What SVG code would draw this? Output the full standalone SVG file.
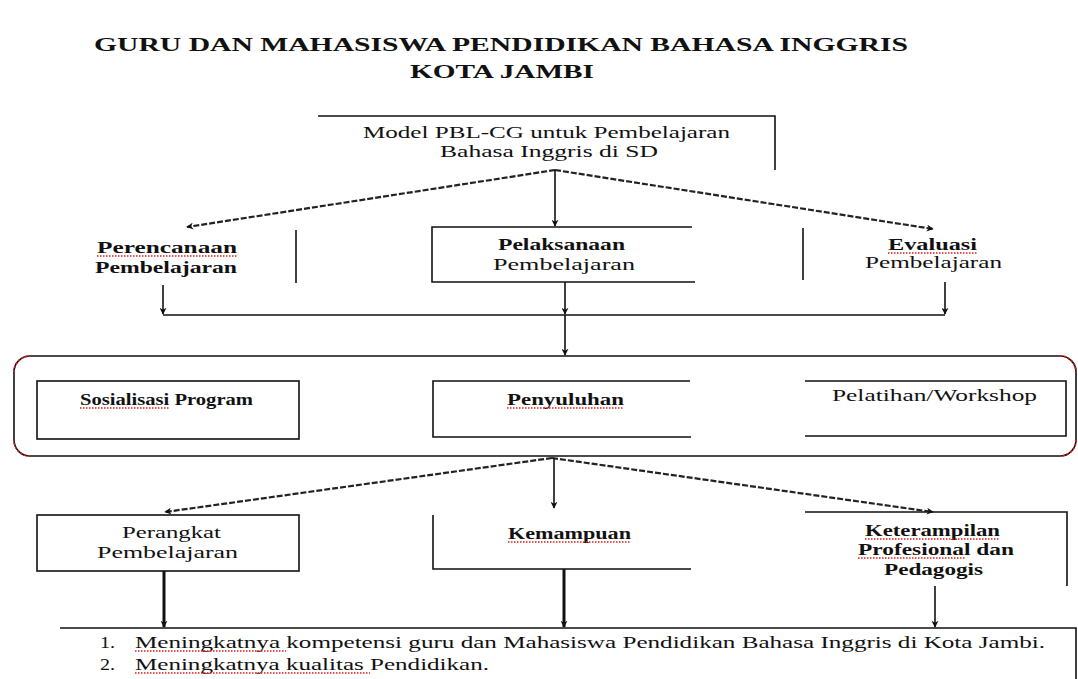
<svg xmlns="http://www.w3.org/2000/svg" width="1078" height="679" viewBox="0 0 1078 679">
<style>
text{font-family:"Liberation Serif","Times New Roman",serif;fill:#111;font-size:16px}
.t{font-weight:bold;font-size:19px}
.b{font-weight:bold}
.ln{stroke:#111;stroke-width:1.6;fill:none}
.th{stroke:#111;stroke-width:3;fill:none}
.ds{stroke:#222;stroke-width:2.2;fill:none;stroke-dasharray:6 2}
.sq{stroke:#e0201a;stroke-width:1.3;fill:none;stroke-dasharray:1.5 1.5}
.rc{stroke:#d0201a;stroke-width:1.8;fill:none;stroke-dasharray:2 2}
</style>
<defs>
<marker id="ah" viewBox="0 0 10 10" refX="9" refY="5" markerWidth="7" markerHeight="7" orient="auto" markerUnits="userSpaceOnUse">
<path d="M0,0 L10,5 L0,10 L3,5 Z" fill="#111"/>
</marker>
</defs>
<rect width="1078" height="679" fill="#fff"/>
<g id="title">
<text class="t" x="94" y="51" textLength="814" lengthAdjust="spacingAndGlyphs">GURU DAN MAHASISWA PENDIDIKAN BAHASA INGGRIS</text>
<text class="t" x="410" y="78" textLength="184" lengthAdjust="spacingAndGlyphs">KOTA JAMBI</text>
</g>
<g id="n-model">
<path class="ln" d="M318,116 H775 V170"/>
<text x="363" y="138" textLength="367" lengthAdjust="spacingAndGlyphs">Model PBL-CG untuk Pembelajaran</text>
<text x="440" y="157" textLength="218" lengthAdjust="spacingAndGlyphs">Bahasa Inggris di SD</text>
</g>
<g id="n-perencanaan">
<text class="b" x="97" y="253" textLength="140" lengthAdjust="spacingAndGlyphs">Perencanaan</text>
<path class="sq" d="M97,256 H237"/>
<text class="b" x="95" y="273" textLength="142" lengthAdjust="spacingAndGlyphs">Pembelajaran</text>
<path class="ln" d="M296,230 V283"/>
</g>
<g id="n-pelaksanaan">
<path class="ln" d="M692,227 H432 V282 H695"/>
<text class="b" x="498" y="250" textLength="127" lengthAdjust="spacingAndGlyphs">Pelaksanaan</text>
<text x="493" y="270" textLength="142" lengthAdjust="spacingAndGlyphs">Pembelajaran</text>
</g>
<g id="n-evaluasi">
<path class="ln" d="M803,228 V280"/>
<text class="b" x="888" y="250" textLength="89" lengthAdjust="spacingAndGlyphs">Evaluasi</text>
<path class="sq" d="M888,253 H977"/>
<text x="865" y="268" textLength="137" lengthAdjust="spacingAndGlyphs">Pembelajaran</text>
</g>
<g id="n-container">
<rect x="14" y="356" width="1062" height="100" rx="16" ry="16" class="ln"/>
<path class="rc" d="M14,372 A16,16 0 0 1 30,356 M1060,356 A16,16 0 0 1 1076,372 M1076,440 A16,16 0 0 1 1060,456 M30,456 A16,16 0 0 1 14,440"/>
</g>
<g id="n-sosialisasi">
<rect x="37" y="381" width="262" height="58" class="ln"/>
<text class="b" x="80" y="405" textLength="173" lengthAdjust="spacingAndGlyphs">Sosialisasi Program</text>
<path class="sq" d="M80,408 H170"/>
</g>
<g id="n-penyuluhan">
<path class="ln" d="M690,381 H433 V437 H691"/>
<text class="b" x="507" y="405" textLength="117" lengthAdjust="spacingAndGlyphs">Penyuluhan</text>
<path class="sq" d="M507,408 H624"/>
</g>
<g id="n-pelatihan">
<path class="ln" d="M805,381 H1066 V436 H805"/>
<text x="832" y="401" textLength="205" lengthAdjust="spacingAndGlyphs">Pelatihan/Workshop</text>
</g>
<g id="n-perangkat">
<rect x="37" y="515" width="262" height="56" class="ln"/>
<text x="122" y="538" textLength="99" lengthAdjust="spacingAndGlyphs">Perangkat</text>
<text x="97" y="558" textLength="141" lengthAdjust="spacingAndGlyphs">Pembelajaran</text>
</g>
<g id="n-kemampuan">
<path class="ln" d="M433,515 V569 H691"/>
<text class="b" x="508" y="539" textLength="123" lengthAdjust="spacingAndGlyphs">Kemampuan</text>
<path class="sq" d="M508,542 H631"/>
</g>
<g id="n-keterampilan">
<path class="ln" d="M805,512 H1067 V586"/>
<text class="b" x="865" y="536" textLength="135" lengthAdjust="spacingAndGlyphs">Keterampilan</text>
<path class="sq" d="M865,539 H1000"/>
<text class="b" x="858" y="555" textLength="156" lengthAdjust="spacingAndGlyphs">Profesional dan</text>
<path class="sq" d="M858,558 H966"/>
<text class="b" x="884" y="575" textLength="99" lengthAdjust="spacingAndGlyphs">Pedagogis</text>
</g>
<g id="n-hasil">
<path class="ln" d="M60,628 H1076 V679"/>
<text x="100" y="648" textLength="15" lengthAdjust="spacingAndGlyphs">1.</text>
<text x="135" y="648" textLength="910" lengthAdjust="spacingAndGlyphs">Meningkatnya kompetensi guru dan Mahasiswa Pendidikan Bahasa Inggris di Kota Jambi.</text>
<path class="sq" d="M135,651 H286"/>
<text x="100" y="670" textLength="15" lengthAdjust="spacingAndGlyphs">2.</text>
<text x="135" y="670" textLength="354" lengthAdjust="spacingAndGlyphs">Meningkatnya kualitas Pendidikan.</text>
<path class="sq" d="M135,673 H370"/>
</g>
<g id="connectors">
<path class="ds" d="M555,170 L187,227" marker-end="url(#ah)"/>
<path class="ds" d="M555,170 L933,229" marker-end="url(#ah)"/>
<path class="ln" d="M555,170 V226" marker-end="url(#ah)"/>
<path class="ln" d="M163,285 V314" marker-end="url(#ah)"/>
<path class="ln" d="M565,282 V314" marker-end="url(#ah)"/>
<path class="ln" d="M945,282 V314" marker-end="url(#ah)"/>
<path class="ln" d="M163,315 H945"/>
<path class="ln" d="M565,315 V355" marker-end="url(#ah)"/>
<path class="ds" d="M552,458 L165,512" marker-end="url(#ah)"/>
<path class="ds" d="M552,458 L933,512" marker-end="url(#ah)"/>
<path class="ln" d="M554,458 V508" marker-end="url(#ah)"/>
<path class="th" d="M164,571 V627" marker-end="url(#ah)"/>
<path class="th" d="M564,569 V627" marker-end="url(#ah)"/>
<path class="ln" d="M935,586 V627" marker-end="url(#ah)"/>
</g>
</svg>
